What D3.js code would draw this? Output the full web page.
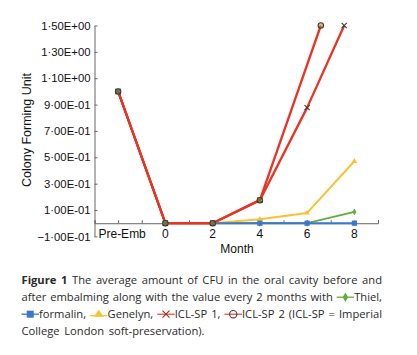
<!DOCTYPE html>
<html><head><meta charset="utf-8">
<script src="https://cdn.jsdelivr.net/npm/d3@7"></script>
<style>
html,body{margin:0;padding:0;background:#fff;}
svg{display:block;}
</style></head>
<body>
<svg id="chart" width="417" height="355"></svg>
<script>
// ---------------- DATA ----------------
const categories = ["Pre-Emb", "0", "2", "4", "6", "8"];
const categoryMonths = [-2, 0, 2, 4, 6, 8];
const xAxisTitle = "Month";
const yAxisTitle = "Colony Forming Unit";
const yTickValues = [-0.1, 0.1, 0.3, 0.5, 0.7, 0.9, 1.1, 1.3, 1.5];
const yTickLabels = ["\u22121\u00b700E-01", "1\u00b700E-01", "3\u00b700E-01", "5\u00b700E-01", "7\u00b700E-01", "9\u00b700E-01", "1\u00b710E+00", "1\u00b730E+00", "1\u00b750E+00"];

const thielMonths = [-2, 0, 2, 4, 6, 8];
const thielValues = [1.0, 0, 0, 0, 0, 0.086];
const formalinMonths = [-2, 0, 2, 4, 6, 8];
const formalinValues = [1.0, 0, 0, 0, 0, 0];
const genelynMonths = [-2, 0, 2, 4, 6, 8];
const genelynValues = [1.0, 0, 0, 0.03, 0.078, 0.47];
// last points are where the lines leave the top of the axis (clipped at 1.5)
const iclsp1Months = [-2, 0, 2, 4, 6, 7.57];
const iclsp1Values = [1.0, 0, 0, 0.175, 0.877, 1.5];
const iclsp2Months = [-2, 0, 2, 4, 6.58];
const iclsp2Values = [1.0, 0, 0, 0.175, 1.5];

const seriesNames = ["Thiel", "Genelyn", "formalin", "ICL-SP 1", "ICL-SP 2"];

// ---------------- STYLE ----------------
const C = {thiel: "#62ab3f", formalin: "#3b77cc", genelyn: "#f8c232", red: "#ea3323", axis: "#666", mark: "#3b3b30"};

const svg = d3.select("#chart");
const x = d3.scaleLinear().domain([-3, 9]).range([94.5, 378]);
const y = d3.scaleLinear().domain([-0.1, 1.5]).range([236.4, 25.5]);
const chartFont = "'Liberation Sans', Arial, sans-serif";

// axes
const gx = svg.append("g").attr("transform", `translate(0,${y(0)})`)
  .call(d3.axisBottom(x).tickValues(d3.range(-3, 10)).tickSize(-3).tickFormat(""));
gx.select(".domain").attr("stroke", C.axis).attr("stroke-width", 1);
gx.selectAll(".tick line").attr("stroke", C.axis);

const gy = svg.append("g").attr("transform", `translate(${x(-3)},0)`)
  .call(d3.axisLeft(y).tickValues(yTickValues).tickSize(-3).tickSizeOuter(0)
    .tickFormat((d, i) => yTickLabels[i]));
gy.select(".domain").attr("stroke", C.axis).attr("stroke-width", 1);
gy.selectAll(".tick line").attr("stroke", C.axis);
gy.selectAll(".tick text").attr("x", -4).attr("font-family", chartFont).attr("font-size", 11.3).attr("fill", "#111");

// x category labels
svg.append("g").selectAll("text").data(categories).join("text")
  .attr("x", (d, i) => x(categoryMonths[i]) + (i === 0 ? 4 : 0))
  .attr("y", 237.5).attr("text-anchor", "middle")
  .attr("font-family", chartFont).attr("font-size", 12).attr("fill", "#111")
  .text(d => d);

svg.append("text").attr("x", 237).attr("y", 252.5).attr("text-anchor", "middle")
  .attr("font-family", chartFont).attr("font-size", 12).attr("fill", "#111").text(xAxisTitle);
svg.append("text").attr("transform", `translate(31,130) rotate(-90)`).attr("text-anchor", "middle")
  .attr("font-family", chartFont).attr("font-size", 12.5).attr("fill", "#111").text(yAxisTitle);

// lines
const line = d3.line().x(d => x(d[0])).y(d => y(d[1]));
const zip = (a, b) => a.map((v, i) => [v, b[i]]);
const series = [
  {name: seriesNames[0], pts: zip(thielMonths, thielValues), color: C.thiel, w: 1.8, m: "diamond"},
  {name: seriesNames[1], pts: zip(genelynMonths, genelynValues), color: C.genelyn, w: 2, m: "triangle"},
  {name: seriesNames[2], pts: zip(formalinMonths, formalinValues), color: C.formalin, w: 2, m: "square"},
  {name: seriesNames[3], pts: zip(iclsp1Months, iclsp1Values), color: C.red, w: 2.3, m: "x"},
  {name: seriesNames[4], pts: zip(iclsp2Months, iclsp2Values), color: C.red, w: 2.3, m: "circle"}
];
series.forEach(s => {
  svg.append("path").attr("d", line(s.pts)).attr("fill", "none")
    .attr("stroke", s.color).attr("stroke-width", s.w).attr("stroke-linejoin", "round");
});

function marker(g, type, cx, cy, color, big) {
  const k = big ? 1.35 : 1;
  if (type === "diamond") {
    g.append("path").attr("d", d3.symbol(d3.symbolDiamond, 14 * k * k)()).attr("transform", `translate(${cx},${cy})`).attr("fill", color);
  } else if (type === "square") {
    g.append("rect").attr("x", cx - 2.6 * k).attr("y", cy - 2.6 * k).attr("width", 5.2 * k).attr("height", 5.2 * k).attr("fill", color);
  } else if (type === "triangle") {
    g.append("path").attr("d", d3.symbol(d3.symbolTriangle, 14 * k * k)()).attr("transform", `translate(${cx},${cy})`).attr("fill", color);
  } else if (type === "x") {
    const r = 2.6 * k;
    g.append("path").attr("d", `M${cx - r},${cy - r}L${cx + r},${cy + r}M${cx - r},${cy + r}L${cx + r},${cy - r}`)
      .attr("stroke", color).attr("stroke-width", 1.1).attr("fill", "none");
  } else if (type === "circle") {
    g.append("circle").attr("cx", cx).attr("cy", cy).attr("r", 2.7 * k).attr("fill", "none").attr("stroke", color).attr("stroke-width", 1.1);
  }
}
const mg = svg.append("g");
series.forEach(s => {
  s.pts.forEach(p => {
    let col = s.color;
    if (s.m === "x" || s.m === "circle") col = C.mark;
    marker(mg, s.m, x(p[0]), y(p[1]), col, false);
  });
});
// olive fill under overlapping circles at shared points
mg.selectAll("circle").attr("fill", "rgba(170,150,40,0.55)");

// ---------------- CAPTION ----------------
const capFont = "'Open Sans', 'Noto Sans', sans-serif";
const capSize = 11.2;
const capLeft = 21.5, capRight = 382;
const capLines = [
  {y: 284, justify: true, words: [[{t: "Figure", b: 1}], [{t: "1", b: 1}], [{t: "The"}], [{t: "average"}], [{t: "amount"}], [{t: "of"}], [{t: "CFU"}], [{t: "in"}], [{t: "the"}], [{t: "oral"}], [{t: "cavity"}], [{t: "before"}], [{t: "and"}]]},
  {y: 301, justify: true, words: [[{t: "after"}], [{t: "embalming"}], [{t: "along"}], [{t: "with"}], [{t: "the"}], [{t: "value"}], [{t: "every"}], [{t: "2"}], [{t: "months"}], [{t: "with"}], [{s: "thiel"}, {t: "Thiel,"}]]},
  {y: 318, justify: true, words: [[{s: "formalin"}, {t: "formalin,"}], [{s: "genelyn"}, {t: "Genelyn,"}], [{s: "icl1"}, {t: "ICL-SP"}], [{t: "1,"}], [{s: "icl2"}, {t: "ICL-SP"}], [{t: "2"}], [{t: "(ICL-SP"}], [{t: "="}], [{t: "Imperial"}]]},
  {y: 335, justify: false, words: [[{t: "College"}], [{t: "London"}], [{t: "soft-preservation)."}]]}
];
const symW = 17.5;
const cap = svg.append("g");
const measure = cap.append("text").attr("font-family", capFont).attr("font-size", capSize).attr("visibility", "hidden");
function textW(t, b) {
  measure.attr("font-weight", b ? "bold" : "normal").text(t);
  return measure.node().getComputedTextLength();
}
const spaceW = textW("a a") - textW("aa");
function drawSym(kind, x0, yb) {
  const cy = yb - 3.8;
  const g = cap.append("g");
  if (kind === "thiel") {
    g.append("line").attr("x1", x0).attr("x2", x0 + symW).attr("y1", cy).attr("y2", cy).attr("stroke", C.thiel).attr("stroke-width", 1.3);
    marker(g, "diamond", x0 + symW / 2, cy, C.thiel, true);
  } else if (kind === "formalin") {
    g.append("line").attr("x1", x0).attr("x2", x0 + symW).attr("y1", cy).attr("y2", cy).attr("stroke", C.formalin).attr("stroke-width", 1.3);
    marker(g, "square", x0 + symW / 2, cy, C.formalin, true);
  } else if (kind === "genelyn") {
    g.append("line").attr("x1", x0).attr("x2", x0 + symW).attr("y1", cy + 1.5).attr("y2", cy + 1.5).attr("stroke", C.genelyn).attr("stroke-width", 1.3);
    g.append("path").attr("d", `M${x0 + symW / 2},${cy - 4.5}L${x0 + symW / 2 + 5},${cy + 2.5}L${x0 + symW / 2 - 5},${cy + 2.5}Z`).attr("fill", C.genelyn);
  } else if (kind === "icl1") {
    g.append("line").attr("x1", x0).attr("x2", x0 + symW).attr("y1", cy).attr("y2", cy).attr("stroke", C.red).attr("stroke-width", 1.1);
    marker(g, "x", x0 + symW / 2, cy, "#a02a22", true);
  } else if (kind === "icl2") {
    g.append("line").attr("x1", x0).attr("x2", x0 + symW).attr("y1", cy).attr("y2", cy).attr("stroke", C.red).attr("stroke-width", 1.1);
    marker(g, "circle", x0 + symW / 2, cy, "#5a3a3a", true);
  }
}
capLines.forEach(L => {
  const widths = L.words.map(w => w.reduce((a, p) => a + (p.s ? symW : textW(p.t, p.b)), 0));
  const total = d3.sum(widths);
  const gaps = L.words.length - 1;
  const gap = L.justify ? (capRight - capLeft - total) / gaps : spaceW * 1.6;
  let cx = capLeft;
  L.words.forEach((w, i) => {
    let px = cx;
    w.forEach(p => {
      if (p.s) { drawSym(p.s, px, L.y); px += symW; }
      else {
        cap.append("text").attr("x", px).attr("y", L.y).attr("font-family", capFont).attr("font-size", capSize)
          .attr("font-weight", p.b ? "bold" : "normal").attr("fill", "#2a2a2a").text(p.t);
        px += textW(p.t, p.b);
      }
    });
    cx += widths[i] + gap;
  });
});
measure.remove();
</script>
</body></html>
